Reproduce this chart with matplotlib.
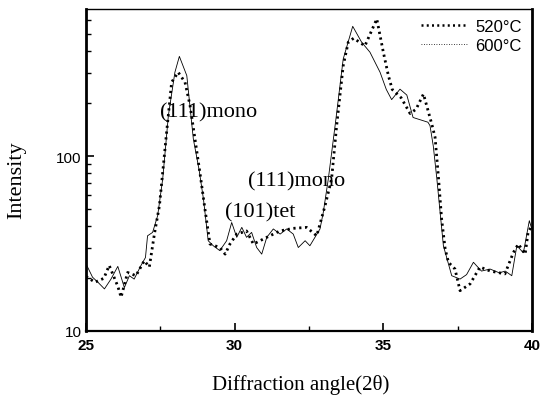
import matplotlib
matplotlib.use("Agg")
import matplotlib.pyplot as plt
from matplotlib.lines import Line2D
from matplotlib.ticker import FixedLocator, NullFormatter, FixedFormatter

# ---- data ----
x520 = [25.0, 25.3, 25.6, 25.78, 26.07, 26.18, 26.4, 26.68, 26.96, 27.13, 27.24, 27.3,
        27.47, 27.71, 27.88, 28.1, 28.33, 28.5, 28.83, 29.0, 29.17, 29.5, 29.68, 29.84,
        30.07, 30.4, 30.63, 31.08, 31.52, 31.97, 32.42, 32.76, 33.04, 33.26, 33.43,
        33.65, 33.82, 34.0, 34.38, 34.78, 35.0, 35.17, 35.3, 35.6, 35.9, 36.1, 36.35,
        36.63, 36.74, 36.85, 36.96, 37.08, 37.19, 37.41, 37.58, 37.92, 38.25, 38.6,
        39.09, 39.37, 39.54, 39.77, 39.87, 40.0]
y520 = [20.5, 19.0, 20.0, 23.7, 18.0, 15.6, 21.6, 20.7, 25.2, 23.2, 30.7, 35.8,
        52.0, 136.0, 264.0, 301.0, 264.0, 194.0, 80.7, 49.8, 31.4, 30.0, 27.5, 31.4,
        35.8, 37.3, 31.4, 34.3, 37.3, 38.6, 39.1, 35.0, 52.0, 74.0, 149.0,
        328.0, 447.0, 471.0, 426.0, 607.0, 392.0, 288.0, 240.0, 215.0, 175.0, 185.0, 226.0,
        152.0, 128.0, 77.0, 43.7, 29.4, 24.7, 22.6, 17.0, 18.6, 23.2, 22.0,
        21.2, 28.0, 31.4, 27.5, 36.8, 40.0]

x600 = [25.0, 25.22, 25.4, 25.62, 25.84, 26.07, 26.29, 26.46, 26.62, 26.85, 27.0, 27.07,
        27.24, 27.41, 27.58, 27.77, 27.99, 28.14, 28.39, 28.61, 28.8, 28.95, 29.11,
        29.28, 29.5, 29.73, 29.9, 30.07, 30.24, 30.4, 30.57, 30.74, 30.91, 31.08, 31.3,
        31.53, 31.75, 31.97, 32.14, 32.37, 32.53, 32.7, 32.87, 32.98, 33.15, 33.4,
        33.65, 33.97, 34.27, 34.55, 34.89, 35.1, 35.28, 35.56, 35.79, 36.0, 36.5,
        36.57, 36.68, 36.8, 36.91, 37.02, 37.3, 37.58, 37.8, 38.03, 38.3, 38.59, 38.9,
        39.1, 39.32, 39.49, 39.71, 39.91, 40.0]
y600 = [24.2, 20.3, 19.0, 17.4, 19.8, 23.4, 17.7, 20.7, 19.8, 23.7, 26.3, 35.0,
        36.6, 45.6, 74.0, 170.0, 301.0, 371.0, 288.0, 125.0, 84.0, 56.8, 32.8,
        30.7, 28.8, 32.8, 41.7, 34.3, 39.1, 34.3, 36.6, 30.0, 27.5, 34.3, 38.3,
        35.8, 38.3, 35.8, 30.0, 32.8, 30.7, 34.3, 38.3, 47.6, 74.0, 160.0,
        358.0, 551.0, 447.0, 392.0, 301.0, 240.0, 210.0, 241.0, 223.0, 166.0, 156.0,
        149.0, 114.0, 74.0, 47.6, 30.7, 20.7, 19.8, 21.0, 24.7, 22.0, 22.6, 21.5,
        22.0, 20.7, 30.7, 28.0, 42.7, 38.0]

series_labels = ["520\u00b0C", "600\u00b0C"]
xtick_vals = [25, 30, 35, 40]
xtick_labels = ["25", "30", "35", "40"]
xminor_vals = [27.5, 32.5, 37.5]
ytick_vals = [10, 100]
ytick_labels = ["10", "100"]
annotations = [("(111)mono", 27.49, 178.0), ("(111)mono", 30.45, 71.9), ("(101)tet", 29.68, 47.9)]

# ---- figure ----
fig = plt.figure(figsize=(5.43, 4.06), dpi=100)
ax = fig.add_axes([86/543, 1-332/406, (532-86)/543, (332-10)/406])

dot_style = (0, (0.8, 1.3))
ax.plot(x600, y600, color="black", lw=0.6, ls="-")
ax.plot(x520, y520, color="black", lw=2.0, ls=dot_style, dash_capstyle="butt")

ax.set_yscale("log")
ax.set_xlim(25, 40)
ax.set_ylim(10, 692)

ax.xaxis.set_major_locator(FixedLocator(xtick_vals))
ax.xaxis.set_major_formatter(FixedFormatter(xtick_labels))
ax.xaxis.set_minor_locator(FixedLocator(xminor_vals))
ax.yaxis.set_major_locator(FixedLocator(ytick_vals))
ax.yaxis.set_major_formatter(FixedFormatter(ytick_labels))
yminor = [v * d for d in (10, 100) for v in range(2, 10) if v * d < 692]
ax.yaxis.set_minor_locator(FixedLocator(yminor))
ax.yaxis.set_minor_formatter(NullFormatter())

ax.tick_params(axis="both", which="both", direction="in", top=False, right=False)
ax.tick_params(axis="both", which="major", length=6, width=1.2)
ax.tick_params(axis="both", which="minor", length=3.5, width=1.0)
ax.tick_params(axis="x", pad=5)
ax.tick_params(axis="y", pad=3)
for lab in ax.get_xticklabels():
    lab.set_fontfamily("Liberation Sans")
    lab.set_fontsize(11)
    lab.set_fontweight("bold")
for lab in ax.get_yticklabels():
    lab.set_fontfamily("Liberation Sans")
    lab.set_fontsize(11)

ax.spines["left"].set_linewidth(2.0)
ax.spines["right"].set_linewidth(2.0)
ax.spines["bottom"].set_linewidth(1.6)
ax.spines["top"].set_linewidth(1.0)

ax.set_xlabel("Diffraction angle(2\u03b8)", family="Liberation Serif", fontsize=15)
ax.set_ylabel("Intensity", family="Liberation Serif", fontsize=16)
ax.xaxis.set_label_coords(0.482, -0.135)
ax.yaxis.set_label_coords(-0.135, 0.47)

for txt, xv, yv in annotations:
    ax.text(xv, yv, txt, family="Liberation Serif", fontsize=16, ha="left", va="center")

handles = [Line2D([], [], color="black", lw=1.8, ls=dot_style, dash_capstyle="butt"),
           Line2D([], [], color="black", lw=0.6, ls=(0, (1, 2)))]
leg = ax.legend(handles, series_labels, loc="upper right", frameon=False,
                prop={"family": "Liberation Sans", "size": 12},
                handlelength=2.8, handletextpad=0.5, labelspacing=0.25,
                borderaxespad=0.2, bbox_to_anchor=(1.0, 1.0))

fig.savefig("out.png", dpi=100)
